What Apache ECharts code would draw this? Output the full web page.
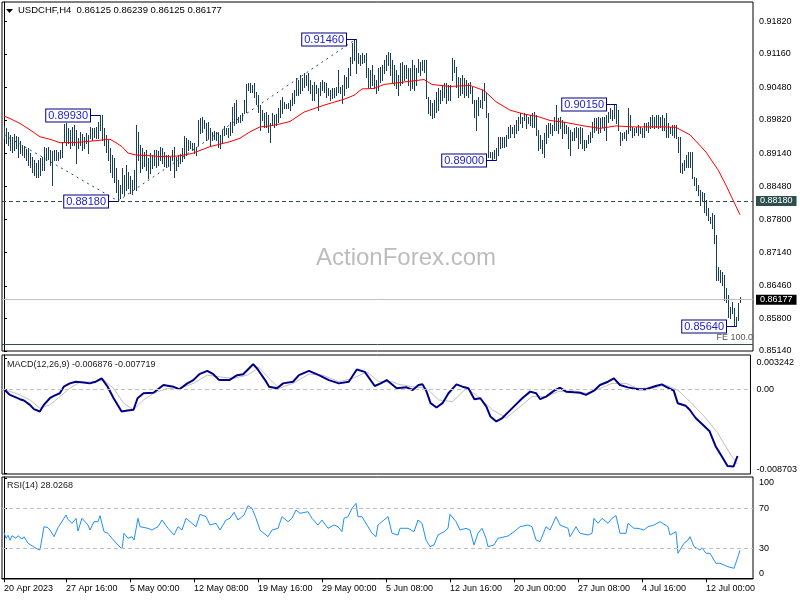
<!DOCTYPE html>
<html><head><meta charset="utf-8">
<script src="https://cdn.jsdelivr.net/npm/echarts@6/dist/echarts.min.js"></script>
<style>html,body{margin:0;padding:0;background:#fff}#c{width:800px;height:600px}</style>
</head><body><div id="c"></div>
<script>
// ---- price bars (H4), one entry per bar, oldest first ----
const barHigh = [
.8970,.8966,.8958,.8952,.8948,.8954,.8950,.8948,.8940,.8931,
.8929,.8923,.8925,.8915,.8907,.8901,.8895,.8901,.8905,.8907,
.8927,.8925,.8927,.8921,.8919,.8921,.8921,.8917,.8921,.8938,
.8974,.8976,.8966,.8962,.8968,.8972,.8962,.8946,.8958,.8954,
.8948,.8956,.8952,.8968,.8966,.8966,.8968,.8978,.8993,
.8992,.8966,.8952,.8942,.8925,.8911,.8905,.8885,.8861,.8850,
.8885,.8871,.8891,.8877,.8869,.8861,.8881,.8972,.8958,.8931,
.8925,.8917,.8921,.8905,.8915,.8911,.8921,.8921,.8919,.8927,
.8925,.8917,.8911,.8911,.8907,.8921,.8927,.8907,.8911,.8913,
.8925,.8950,.8946,.8942,.8940,.8936,
.8936,.8927,.8982,.8986,.8988,.8982,.8976,.8978,.8966,.8958,
.8960,.8958,.8956,.8952,.8962,.8970,.8966,.8966,.8978,.9008,
.9017,.9023,.8988,.8992,.8996,.9023,.9055,.9057,.9057,.9053,
.9057,.9039,.9033,.9013,.9002,.8996,.8998,.8992,.8976,.8996,
.8992,.8994,.9006,.9023,.9029,.9019,.9015,.9017,
.9023,.9037,.9043,.9067,.9063,.9073,.9067,.9077,.9073,.9077,
.9063,.9053,.9059,.9053,.9047,.9059,.9063,.9059,.9057,.9047,
.9043,.9047,.9047,.9049,.9083,.9049,.9053,.9073,.9069,.9087,
.9110,.9138,.9144,.9146,.9118,.9114,.9118,.9114,.9118,.9087,
.9083,.9094,.9073,.9063,.9087,.9090,.9094,.9104,.9114,.9120,
.9118,.9104,.9094,.9083,.9073,.9098,
.9100,.9094,.9094,.9087,.9087,.9104,.9094,.9087,.9106,.9100,
.9104,.9104,.9104,.9029,.9023,.9017,.9023,.9039,.9047,.9043,
.9053,.9057,.9057,.9053,.9053,.9108,.9104,.9090,.9069,.9067,
.9073,.9067,.9063,.9057,.9059,.9049,.9023,.9023,.9029,.9023,
.9043,.9057,.9037,.8996,.8917,.8917,.8921,.8925,.8948,.8948,
.8948,.8948,.8952,.8968,.8972,.8968,.8972,.8982,.8988,.8996,
.8988,.8996,.8992,.8988,.8992,.8996,.8998,.8992,.8962,.8952,
.8942,.8956,.8972,.8976,.8976,.8972,.8988,.9013,.8986,.8988,
.8982,.8978,.8972,.8968,.8962,.8958,.8966,.8968,.8966,.8968,
.8966,.8942,.8942,.8952,.8958,.8978,.8986,.8986,.8988,.8986,
.8988,.8988,.8992,.8998,.9006,.9002,.9013,.9015,.9002,.8958,
.8956,.8958,.8962,.9006,.8992,.8968,.8966,.8968,.8972,.8968,
.8966,.8976,.8976,.8978,.8988,.8992,.8988,.8992,.8992,.8988,
.8992,.8986,.8996,.8976,.8968,.8972,.8972,.8972,.8948,.8948,
.8895,.8901,.8911,.8917,.8917,.8917,.8867,.8865,.8850,.8840,
.8836,.8834,.8820,.8804,.8786,.8794,.8790,.8749,.8684,.8678,
.8674,.8668,.8642,.8628,.8603,.8613,.8601,.8583,.8611,.86239
];
const barLow = [
.8946,.8936,.8931,.8921,.8917,.8921,.8925,.8907,.8915,.8911,
.8907,.8901,.8891,.8887,.8877,.8871,.8867,.8867,.8871,.8881,
.8881,.8901,.8903,.8891,.8850,.8901,.8901,.8901,.8905,.8907,
.8940,.8931,.8936,.8925,.8931,.8931,.8895,.8925,.8931,.8921,
.8925,.8936,.8915,.8946,.8942,.8948,.8946,.8946,.8962,
.8942,.8931,.8917,.8901,.8877,.8867,.8857,.8836,.8818,.8824,
.8834,.8830,.8840,.8844,.8834,.8832,.8842,.8840,.8901,.8877,
.8885,.8889,.8881,.8865,.8875,.8885,.8891,.8887,.8891,.8901,
.8895,.8889,.8887,.8889,.8881,.8901,.8867,.8881,.8889,.8895,
.8899,.8905,.8911,.8921,.8925,.8921,
.8915,.8911,.8931,.8956,.8958,.8966,.8942,.8946,.8931,.8942,
.8944,.8942,.8927,.8925,.8938,.8952,.8954,.8948,.8952,.8958,
.8972,.8976,.8978,.8978,.8982,.8996,.8998,.9043,.9039,.9039,
.9029,.9015,.8998,.8962,.8982,.8968,.8968,.8958,.8938,.8972,
.8968,.8972,.8978,.8988,.8996,.9006,.9006,.9006,
.9002,.9013,.9017,.9033,.9033,.9037,.9043,.9049,.9053,.9043,
.9037,.9023,.9023,.9037,.9002,.9033,.9043,.9039,.9029,.9033,
.9023,.9027,.9029,.9033,.9039,.9037,.9017,.9033,.9047,.9049,
.9073,.9098,.9104,.9077,.9098,.9094,.9098,.9100,.9069,.9049,
.9049,.9053,.9047,.9037,.9043,.9059,.9063,.9077,.9083,.9094,
.9073,.9057,.9053,.9047,.9033,.9053,
.9057,.9063,.9067,.9053,.9043,.9047,.9043,.9053,.9079,.9073,
.9083,.9079,.9027,.8996,.8992,.8986,.8988,.8998,.9002,.9017,
.9023,.9029,.9017,.9023,.9023,.9063,.9079,.9049,.9029,.9033,
.9037,.9029,.9033,.9029,.9037,.9017,.8988,.8962,.8992,.9008,
.9006,.9023,.8988,.8907,.8907,.8901,.8905,.8900,.8911,.8925,
.8927,.8927,.8929,.8946,.8948,.8956,.8948,.8956,.8962,.8976,
.8968,.8982,.8966,.8976,.8972,.8968,.8968,.8952,.8921,.8925,
.8915,.8907,.8936,.8948,.8956,.8952,.8962,.8962,.8956,.8966,
.8946,.8956,.8956,.8925,.8911,.8942,.8942,.8948,.8925,.8936,
.8925,.8921,.8927,.8936,.8938,.8948,.8958,.8962,.8956,.8958,
.8968,.8962,.8942,.8978,.8986,.8982,.8986,.8976,.8962,.8931,
.8942,.8946,.8942,.8956,.8962,.8948,.8952,.8958,.8952,.8956,
.8948,.8948,.8962,.8958,.8966,.8968,.8966,.8968,.8966,.8968,
.8962,.8962,.8948,.8948,.8956,.8952,.8948,.8946,.8917,.8877,
.8875,.8881,.8887,.8887,.8887,.8865,.8850,.8840,.8830,.8810,
.8820,.8796,.8790,.8780,.8773,.8763,.8733,.8658,.8658,.8654,
.8648,.8617,.8613,.8583,.8581,.8591,.8567,.8564,.8577,.86125
];
// ---- moving average (bar index, value) ----
const maIdx = [0,3,8,13,18,23,28,38,48,53,56,59,62,66,71,79,87,94,103,113,118,123,128,133,138,143,150,160,170,175,179,185,190,198,204,210,214,223,233,240,246,253,260,267,273,281,290,298,306,314,323,331,336,343,351,357,361,364,368];
const maVal = [0.8990,0.8985,0.8975,0.8962,0.8948,0.8943,0.8936,0.8937,0.8941,0.8943,0.8936,0.8928,0.8915,0.8911,0.8910,0.8908,0.8909,0.8914,0.8928,0.8938,0.8945,0.8958,0.8968,0.8970,0.8974,0.8979,0.8998,0.9012,0.9024,0.9032,0.9045,0.9046,0.9054,0.9058,0.9061,0.9064,0.9054,0.9050,0.9052,0.9042,0.9019,0.9002,0.8994,0.8989,0.8981,0.8977,0.8970,0.8965,0.8970,0.8968,0.8968,0.8968,0.8967,0.8952,0.8917,0.8881,0.8850,0.8824,0.8790];
// ---- MACD main (bar index, value) ----
const macdIdx = [0,3,8,10,13,15,18,20,23,25,28,30,33,36,40,43,46,49,52,55,59,62,65,67,70,75,80,85,88,92,95,98,102,105,108,113,117,120,125,127,131,133,137,140,145,148,153,158,163,168,173,177,181,186,189,192,197,198,202,205,208,210,212,214,217,220,223,227,230,233,236,239,242,244,247,250,255,260,264,267,269,272,276,279,282,286,289,292,296,299,303,306,309,313,318,322,327,330,332,336,338,342,344,347,351,354,357,360,363,366,368];
const macdVal = [0,-0.00058,-0.00102,-0.00116,-0.00160,-0.00204,-0.00229,-0.00160,-0.00092,-0.00068,-0.00041,0.00027,0.00061,0.00078,0.00071,0.00061,0.00078,0.00112,0.00027,-0.00092,-0.00229,-0.00218,-0.00211,-0.00092,-0.00041,-0.00035,0.00044,0.00027,0.00000,0.00061,0.00095,0.00156,0.00190,0.00156,0.00095,0.00095,0.00146,0.00156,0.00258,0.00214,0.00095,0.00027,0.00010,0.00061,0.00078,0.00146,0.00190,0.00146,0.00095,0.00061,0.00078,0.00204,0.00180,0.00034,0.00061,0.00095,0.00010,0.00000,0.00020,-0.00007,0.00044,0.00051,-0.00024,-0.00143,-0.00188,-0.00143,-0.00041,0.00051,0.00027,0.00010,-0.00102,-0.00092,-0.00178,-0.00280,-0.00331,-0.00296,-0.00194,-0.00092,-0.00024,-0.00041,-0.00102,-0.00075,-0.00014,0.00016,-0.00024,-0.00031,-0.00035,-0.00058,-0.00014,0.00044,0.00078,0.00112,0.00044,0.00020,0.00000,0.00000,0.00034,0.00051,0.00027,-0.00014,-0.00143,-0.00170,-0.00211,-0.00296,-0.00374,-0.00433,-0.00586,-0.00688,-0.00790,-0.00796,-0.006876];
// ---- MACD signal ----
const sigIdx = [0,8,13,18,23,28,33,38,45,50,55,60,65,70,75,82,88,95,102,108,115,122,128,133,138,145,153,160,168,175,182,188,195,198,205,212,218,225,232,238,245,252,258,265,272,278,285,292,298,305,312,318,325,332,338,345,352,358,365,368];
const sigVal = [0,-0.00058,-0.00109,-0.00194,-0.00160,-0.00075,0.00010,0.00071,0.00078,0.00095,0.00010,-0.00143,-0.00211,-0.00109,-0.00041,0.00010,0.00010,0.00061,0.00146,0.00129,0.00112,0.00146,0.00224,0.00112,0.00010,0.00061,0.00156,0.00146,0.00078,0.00112,0.00180,0.00078,0.00078,0.00051,0.00027,0.00010,-0.00109,-0.00127,0.00010,-0.00075,-0.00211,-0.00296,-0.00194,-0.00075,-0.00075,-0.00024,-0.00014,-0.00041,0.00000,0.00061,0.00061,0.00010,0.00010,0.00044,-0.00007,-0.00143,-0.00296,-0.00449,-0.00688,-0.007719];
// ---- RSI(14) ----
const rsiIdx = [0,1,2,3,4,6,7,9,10,12,14,16,18,20,22,23,25,27,28,31,32,34,36,37,39,42,43,45,47,48,50,52,54,57,59,60,62,64,65,67,68,72,74,77,79,82,85,87,89,91,94,96,98,101,103,106,108,111,113,115,117,120,122,124,126,128,132,134,137,139,142,144,146,148,152,154,157,159,162,165,167,169,170,172,174,176,177,179,182,184,186,187,190,192,194,197,198,202,205,207,209,211,213,215,217,220,222,223,226,228,231,233,235,237,239,241,242,245,247,252,255,258,262,264,266,268,271,273,276,278,282,283,286,288,292,294,295,297,299,302,304,306,308,311,312,315,317,320,322,325,328,332,333,336,337,340,342,343,345,348,349,351,353,356,358,362,365,366,367,368];
const rsiVal = [46,40,43,38,42.6,40,42.6,39.3,41.6,35,32.6,30,28.3,51.6,50.6,48.3,41.6,50.6,49,63.3,59,55,60,47.3,60,53.3,48.3,56.6,56.6,62.6,46.6,45,40,33.3,29.3,45,40,41.6,38.3,60,51.6,50,48.3,51.6,58.3,50,43.3,51.6,48.3,60,55,51.6,64,61.6,53.3,55,48.3,58.3,60,66,58.3,63.3,72.6,70,60,48.3,41.6,48.3,50,61.6,56.6,60,68.3,65,66.6,60,53.3,58.3,50,53.3,51.6,46.6,60,61.6,70,75,61.6,61.6,51.6,45,41.6,53.3,58.3,61.6,45,43.3,50,50,46.6,58.3,55,38.3,31.6,33.3,43.3,46.6,50,64,56.6,48.3,50,48.3,33.3,45,50,40,31.6,33.3,40,42.3,46.6,51.6,53.3,51.6,38.3,36.6,51.6,48.3,61.6,53.3,50,41.6,51.6,45,43.3,45,60,55,60,55,60,62.6,45,45,55,50,50,48.3,51.6,53.3,56.6,51.6,43.3,46.6,25,35,38.3,41.6,31.6,28.3,30.6,25,25,15,15,11.6,10,10,21.6,28.0268];
// ---- axis ticks & labels (ascending) ----
const priceTicks = [0.85140,0.85800,0.86460,0.87140,0.87800,0.88480,0.89140,0.89820,0.90480,0.91160,0.91820];
const macdTicks = [-0.008703, 0, 0.003242];
const macdTickText = ['-0.008703','0.00','0.003242'];
const rsiTicks = [0,30,70,100];
const timeIdx = [0,31,63,95,127,159,191,223,255,287,319,351];
const timeLabels = ['20 Apr 2023','27 Apr 16:00','5 May 00:00','12 May 08:00','19 May 16:00','29 May 00:00','5 Jun 08:00','12 Jun 16:00','20 Jun 00:00','27 Jun 08:00','4 Jul 16:00','12 Jul 00:00'];
// ---- annotations ----
const hLevel = 0.88180, lastPrice = 0.86177, feLevel = 0.85282;
const zigIdx = [0,57,176], zigVal = [0.8952,0.8818,0.9146];
const noteIdx = [48,57,176,246,306,366], noteVal = [0.8993,0.8818,0.9146,0.8900,0.9015,0.8564];
const titleText = 'USDCHF,H4  0.86125 0.86239 0.86125 0.86177';
const macdText = 'MACD(12,26,9) -0.006876 -0.007719';
const rsiText = 'RSI(14) 28.0268';

const FONT = 'Liberation Sans';
const chart = echarts.init(document.getElementById('c'), null, {renderer:'canvas'});
const xCommon = {type:'value', min:-1, max:374.5, show:false};
const gridCommon = {left:2, width:751, show:true, borderColor:'#000', borderWidth:1, backgroundColor:'rgba(0,0,0,0)'};
const dashGray = {color:'#c0c0c0', type:[4,3], width:1};

const barData = barHigh.map((h,i)=>[i,h,barLow[i]]);
const pair = (a,b)=>a.map((x,k)=>[x,b[k]]);
const zigStyle = {color:'#2f4f4f', type:[2,4], width:1};

chart.setOption({
  animation:false,
  backgroundColor:'#fff',
  grid:[
    Object.assign({top:2, height:349}, gridCommon),
    Object.assign({top:355, height:119}, gridCommon),
    Object.assign({top:477, height:102}, gridCommon)
  ],
  xAxis:[
    Object.assign({gridIndex:0}, xCommon),
    Object.assign({gridIndex:1}, xCommon),
    {gridIndex:2, type:'value', min:-1, max:374.5, position:'bottom',
     axisLine:{show:true, lineStyle:{color:'#000'}},
     axisTick:{show:true, customValues:timeIdx, length:4, lineStyle:{color:'#000'}},
     splitLine:{show:false},
     axisLabel:{customValues:timeIdx, align:'left', margin:5, fontSize:9, fontFamily:FONT, color:'#000',
       formatter:v=>{const k=timeIdx.indexOf(Math.round(v)); return k>=0?timeLabels[k]:'';}}}
  ],
  yAxis:[
    {gridIndex:0, type:'value', position:'right', min:0.85138, max:0.922115, scale:true,
     axisLine:{show:true, lineStyle:{color:'#000'}},
     axisTick:{show:true, customValues:priceTicks, length:3, lineStyle:{color:'#000'}},
     splitLine:{show:false},
     axisLabel:{customValues:priceTicks, margin:6, fontSize:9, fontFamily:FONT, color:'#000', formatter:v=>v.toFixed(5)}},
    {gridIndex:1, type:'value', position:'right', min:-0.00873, max:0.003536, scale:true,
     axisLine:{show:true, lineStyle:{color:'#000'}},
     axisTick:{show:true, customValues:macdTicks, length:3, lineStyle:{color:'#000'}},
     splitLine:{show:false},
     axisLabel:{customValues:macdTicks, margin:6, fontSize:9, fontFamily:FONT, color:'#000',
       verticalAlignMaxLabel:'top', verticalAlignMinLabel:'bottom',
       formatter:v=>{let k=-1; macdTicks.forEach((t,j)=>{if(Math.abs(t-v)<1e-7)k=j;}); return k>=0?macdTickText[k]:'';}}},
    {gridIndex:2, type:'value', position:'right', min:-0.7, max:101.3,
     axisLine:{show:true, lineStyle:{color:'#000'}},
     axisTick:{show:true, customValues:rsiTicks, length:3, lineStyle:{color:'#000'}},
     splitLine:{show:false},
     axisLabel:{customValues:rsiTicks, margin:6, fontSize:9, fontFamily:FONT, color:'#000',
       verticalAlignMaxLabel:'top', verticalAlignMinLabel:'bottom', formatter:v=>String(Math.round(v))}}
  ],
  graphic:[
    {type:'text', left:316, top:246, z:0, silent:true, style:{text:'ActionForex.com', font:'24px "Liberation Sans"', fill:'#bcbcbc'}},
    {type:'polygon', z:10, shape:{points:[[6,9],[13,9],[9.5,13]]}, style:{fill:'#000'}},
    {type:'text', left:18, top:5, z:10, style:{text:titleText, font:'9.5px "Liberation Sans"', fill:'#000'}},
    {type:'text', left:7, top:360, z:10, style:{text:macdText, font:'9px "Liberation Sans"', fill:'#1a1a1a'}},
    {type:'text', left:7, top:481, z:10, style:{text:rsiText, font:'9px "Liberation Sans"', fill:'#1a1a1a'}}
  ],
  series:[
    {type:'custom', name:'bars', xAxisIndex:0, yAxisIndex:0, clip:true, silent:true,
     encode:{x:0, y:[1,2]}, data:barData,
     renderItem:(params, api)=>{
       const i=api.value(0);
       const hp=api.coord([i, api.value(1)]), lp=api.coord([i, api.value(2)]);
       const x=Math.round(hp[0])+0.5;
       return {type:'line', shape:{x1:x, y1:Math.round(hp[1]), x2:x, y2:Math.round(lp[1])+1},
               style:{stroke:'#163f55', lineWidth:1}};
     }},
    {type:'line', name:'ma', xAxisIndex:0, yAxisIndex:0, data:pair(maIdx,maVal), symbol:'none', silent:true,
     lineStyle:{color:'#ff0000', width:1}, z:3,
     markLine:{silent:true, symbol:['none','none'], animation:false, precision:6,
       data:[
         {yAxis:hLevel, lineStyle:{color:'#2f4f4f', type:[4,3], width:1},
          label:{show:true, position:'end', distance:3, formatter:()=>hLevel.toFixed(5), backgroundColor:'#2f4f4f', color:'#fff', padding:[1,4,0,4], fontSize:9, fontFamily:FONT}},
         {yAxis:lastPrice, lineStyle:{color:'#c0c0c0', type:'solid', width:1},
          label:{show:true, position:'end', distance:3, formatter:()=>lastPrice.toFixed(5), backgroundColor:'#000', color:'#fff', padding:[1,4,0,4], fontSize:9, fontFamily:FONT}},
         {yAxis:feLevel, lineStyle:{color:'#2f4f4f', type:'solid', width:1},
          label:{show:true, position:'insideEndTop', distance:[0,2], formatter:'FE 100.0', color:'#555', fontSize:9, fontFamily:FONT}},
         [{coord:[zigIdx[0],zigVal[0]], lineStyle:zigStyle, label:{show:false}},{coord:[zigIdx[1],zigVal[1]]}],
         [{coord:[zigIdx[1],zigVal[1]], lineStyle:zigStyle, label:{show:false}},{coord:[zigIdx[2],zigVal[2]]}]
       ]}},
    {type:'custom', name:'notes', xAxisIndex:0, yAxisIndex:0, silent:true, z:5,
     encode:{x:0, y:1}, data:pair(noteIdx,noteVal),
     renderItem:(params, api)=>{
       const p=api.coord([api.value(0), api.value(1)]);
       const y=Math.round(p[1])+0.5, xr=Math.round(p[0]);
       return {type:'group', children:[
         {type:'line', shape:{x1:xr-10, y1:y, x2:xr, y2:y}, style:{stroke:'#000080', lineWidth:1}},
         {type:'text', x:xr-10, y:y, style:{text:noteVal[params.dataIndex].toFixed(5), align:'right', verticalAlign:'middle',
           font:'11px "Liberation Sans"', fill:'#2020c8', backgroundColor:'#fff', borderColor:'#000080', borderWidth:1, padding:[1,2,0,2]}}
       ]};
     }},
    {type:'line', name:'signal', xAxisIndex:1, yAxisIndex:1, data:pair(sigIdx,sigVal), symbol:'none', silent:true,
     lineStyle:{color:'#c0c0c0', width:1},
     markLine:{silent:true, symbol:['none','none'], precision:6, label:{show:false}, lineStyle:dashGray, data:[{yAxis:0}]}},
    {type:'line', name:'macd', xAxisIndex:1, yAxisIndex:1, data:pair(macdIdx,macdVal), symbol:'none', silent:true,
     lineStyle:{color:'#00008b', width:2}},
    {type:'line', name:'rsi', xAxisIndex:2, yAxisIndex:2, data:pair(rsiIdx,rsiVal), symbol:'none', silent:true,
     lineStyle:{color:'#1e90ff', width:1},
     markLine:{silent:true, symbol:['none','none'], label:{show:false}, lineStyle:dashGray, data:[{yAxis:70},{yAxis:30}]}}
  ]
});
</script></body></html>
